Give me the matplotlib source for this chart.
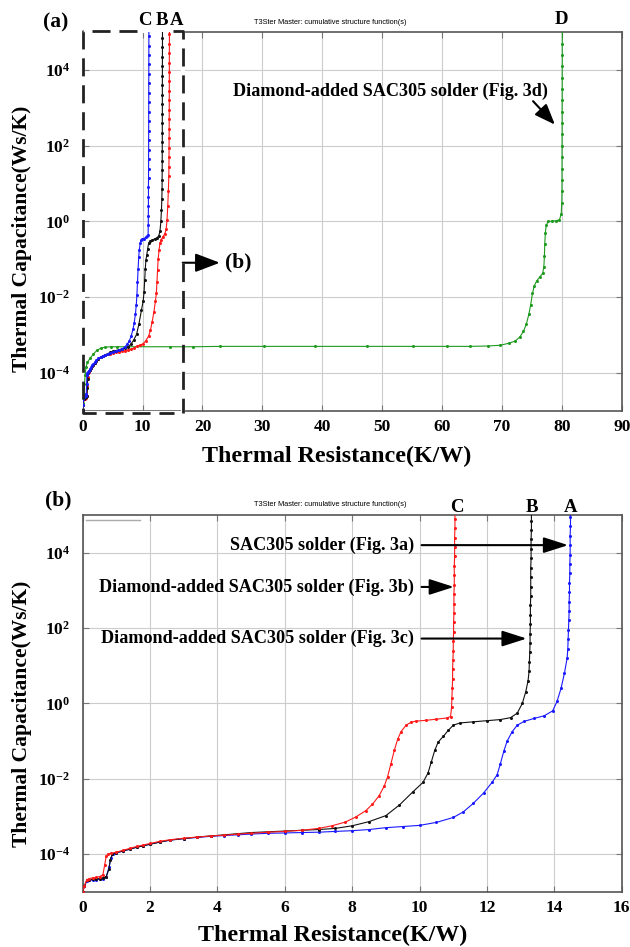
import numpy as np
import matplotlib
matplotlib.use('Agg')
import matplotlib.pyplot as plt
from matplotlib.ticker import FixedLocator, FixedFormatter, NullLocator

plt.rcParams['font.family'] = ['Liberation Serif', 'DejaVu Serif']
plt.rcParams['font.weight'] = 'bold'
plt.rcParams['mathtext.fontset'] = 'custom'
plt.rcParams['mathtext.rm'] = 'Liberation Serif:bold'
plt.rcParams['mathtext.it'] = 'Liberation Serif:bold:italic'
plt.rcParams['mathtext.bf'] = 'Liberation Serif:bold'
plt.rcParams['mathtext.default'] = 'rm'

# ---------------- data (thermal resistance K/W, log10 of thermal capacitance Ws/K) ----------------
# A: SAC305 solder (Fig. 3a)
A_x = [0.00, 0.05, 0.12, 0.20, 0.30, 0.40, 0.50, 0.60, 0.70, 0.78,
       0.84, 0.90, 1.00, 1.20, 1.40, 1.60, 1.80, 2.00, 2.30, 2.60,
       3.00, 3.40, 3.80, 4.20, 4.60, 5.00, 5.50, 6.00, 6.50, 7.00,
       7.50, 8.00, 8.50, 9.00, 9.50, 10.00, 10.50, 11.00, 11.30, 11.60,
       11.90, 12.15, 12.30, 12.40, 12.50, 12.60, 12.75, 12.90, 13.10, 13.40,
       13.70, 13.95, 14.08, 14.20, 14.30, 14.38,
       14.40, 14.41, 14.42, 14.43, 14.44, 14.44, 14.45, 14.45, 14.46, 14.46,
       14.47, 14.47, 14.47, 14.48, 14.48, 14.48]
A_logc = [-5.00, -4.85, -4.72, -4.70, -4.69, -4.68, -4.67, -4.65, -4.60, -4.35,
          -4.10, -4.00, -3.97, -3.92, -3.87, -3.82, -3.78, -3.74, -3.68, -3.63,
          -3.59, -3.56, -3.53, -3.51, -3.49, -3.47, -3.45, -3.44, -3.43, -3.42,
          -3.40, -3.38, -3.35, -3.30, -3.27, -3.24, -3.16, -3.03, -2.88, -2.65,
          -2.38, -2.10, -1.90, -1.60, -1.27, -1.00, -0.75, -0.58, -0.48, -0.40,
          -0.33, -0.20, 0.05, 0.40, 0.80, 1.20,
          1.45, 1.70, 1.95, 2.20, 2.45, 2.70, 2.95, 3.20, 3.45, 3.70,
          3.95, 4.20, 4.45, 4.70, 4.95, 5.10]

# B: Diamond-added SAC305 solder (Fig. 3c)
B_x = [0.00, 0.05, 0.12, 0.20, 0.30, 0.40, 0.50, 0.60, 0.70, 0.78,
       0.82, 0.88, 1.00, 1.20, 1.40, 1.60, 1.80, 2.00, 2.30, 2.60,
       3.00, 3.40, 3.80, 4.20, 4.60, 5.00, 5.50, 6.00, 6.50, 7.00,
       7.50, 8.00, 8.50, 9.00, 9.40, 9.80, 10.10, 10.25, 10.35, 10.45,
       10.55, 10.70, 10.85, 11.00, 11.20, 11.60, 12.00, 12.40, 12.70, 12.90,
       13.05, 13.15, 13.22,
       13.25, 13.26, 13.27, 13.28, 13.28, 13.29, 13.29, 13.29, 13.30, 13.30,
       13.30, 13.30, 13.31, 13.31, 13.31, 13.32, 13.32, 13.32]
B_logc = [-5.00, -4.85, -4.70, -4.68, -4.67, -4.66, -4.65, -4.63, -4.60, -4.40,
          -4.15, -4.00, -3.96, -3.92, -3.87, -3.82, -3.78, -3.74, -3.68, -3.63,
          -3.59, -3.55, -3.52, -3.49, -3.46, -3.43, -3.41, -3.39, -3.37, -3.35,
          -3.32, -3.25, -3.14, -2.98, -2.70, -2.35, -2.10, -1.85, -1.55, -1.25,
          -1.03, -0.88, -0.72, -0.58, -0.52, -0.49, -0.46, -0.43, -0.38, -0.26,
          0.00, 0.30, 0.60,
          0.85, 1.10, 1.35, 1.60, 1.85, 2.10, 2.35, 2.60, 2.85, 3.10,
          3.35, 3.60, 3.85, 4.10, 4.35, 4.60, 4.85, 5.10]

# C: Diamond-added SAC305 solder (Fig. 3b)
C_x = [0.00, 0.05, 0.12, 0.20, 0.30, 0.40, 0.50, 0.60, 0.65, 0.70,
       0.75, 0.85, 1.00, 1.20, 1.40, 1.60, 1.80, 2.00, 2.30, 2.60,
       3.00, 3.40, 3.80, 4.20, 4.60, 5.00, 5.50, 6.00, 6.50, 7.00,
       7.40, 7.80, 8.10, 8.40, 8.60, 8.80, 8.95, 9.05, 9.15, 9.25,
       9.35, 9.45, 9.60, 9.75, 9.90, 10.20, 10.50, 10.80, 10.92,
       10.95, 10.96, 10.97, 10.98, 10.98, 10.99, 11.00, 11.00, 11.01, 11.01,
       11.02, 11.02, 11.02, 11.03, 11.03, 11.03, 11.04, 11.04, 11.04, 11.05,
       11.05, 11.05]
C_logc = [-5.00, -4.85, -4.68, -4.65, -4.63, -4.62, -4.60, -4.55, -4.30, -4.05,
          -4.00, -3.98, -3.95, -3.90, -3.85, -3.80, -3.76, -3.72, -3.66, -3.62,
          -3.58, -3.55, -3.52, -3.50, -3.47, -3.45, -3.42, -3.40, -3.37, -3.32,
          -3.25, -3.15, -3.02, -2.85, -2.68, -2.45, -2.20, -1.95, -1.60, -1.25,
          -0.95, -0.75, -0.58, -0.50, -0.47, -0.45, -0.42, -0.39, -0.35,
          -0.10, 0.15, 0.40, 0.65, 0.90, 1.15, 1.40, 1.65, 1.90, 2.15,
          2.40, 2.65, 2.90, 3.15, 3.40, 3.65, 3.90, 4.15, 4.40, 4.65,
          4.90, 5.10]

# D: Diamond-added SAC305 solder (Fig. 3d)
D_x = [0.00, 0.10, 0.20, 0.30, 0.40, 0.55, 0.80, 1.20, 1.80, 2.40,
       3.00, 3.80, 4.80, 5.80, 14.60, 18.50, 22.90, 30.20, 38.80, 47.40,
       55.20, 60.80, 64.70, 67.70, 69.70, 71.10, 72.20, 73.00, 73.60, 74.10,
       74.50, 74.80, 75.10, 75.40, 75.80, 76.30, 76.80, 77.00, 77.10, 77.15,
       77.25, 77.40, 77.70, 78.30, 79.00, 79.60, 79.90, 80.00,
       80.02, 80.03, 80.03, 80.04, 80.04, 80.05, 80.05, 80.05, 80.06, 80.06,
       80.06, 80.07, 80.07, 80.07, 80.08]
D_logc = [-5.00, -4.80, -4.55, -4.30, -4.05, -3.85, -3.72, -3.62, -3.50, -3.40,
          -3.35, -3.32, -3.31, -3.31, -3.31, -3.31, -3.30, -3.30, -3.30, -3.30,
          -3.30, -3.30, -3.30, -3.29, -3.27, -3.22, -3.16, -3.05, -2.90, -2.70,
          -2.45, -2.20, -1.90, -1.70, -1.57, -1.47, -1.37, -1.20, -0.90, -0.60,
          -0.30, -0.10, 0.00, 0.01, 0.02, 0.04, 0.20, 0.50,
          0.80, 1.10, 1.40, 1.70, 2.00, 2.30, 2.60, 2.90, 3.20, 3.50,
          3.80, 4.10, 4.40, 4.70, 5.05]

ytick_vals = [1e-4, 1e-2, 1e0, 1e2, 1e4]
ytick_labels = [r'$10^{-4}$', r'$10^{-2}$', r'$10^{0}$', r'$10^{2}$', r'$10^{4}$']
xticks_a = [0, 10, 20, 30, 40, 50, 60, 70, 80, 90]
xticks_b = [0, 2, 4, 6, 8, 10, 12, 14, 16]

label_x = 'Thermal Resistance(K/W)'
label_y = 'Thermal Capacitance(Ws/K)'
title_small = 'T3Ster Master: cumulative structure function(s)'

# ---------------- figure ----------------
W, H = 630, 947
fig = plt.figure(figsize=(W / 100, H / 100), dpi=100)
axA = fig.add_axes([82.7 / W, 1 - 410.7 / H, 539 / W, 378.4 / H])
axB = fig.add_axes([82.7 / W, 1 - 891.7 / H, 539 / W, 376.7 / H])


def ftext(px, py, s, **kw):
    return fig.text(px / W, 1 - py / H, s, **kw)


def style(ax, xticks):
    ax.set_yscale('log')
    ax.set_ylim(1e-5, 1e5)
    ax.set_xlim(xticks[0], xticks[-1])
    ax.xaxis.set_major_locator(FixedLocator(xticks))
    ax.xaxis.set_minor_locator(NullLocator())
    ax.yaxis.set_major_locator(FixedLocator(ytick_vals))
    ax.yaxis.set_major_formatter(FixedFormatter(ytick_labels))
    ax.yaxis.set_minor_locator(NullLocator())
    ax.grid(True, color='#cccccc', lw=0.8)
    ax.set_axisbelow(True)
    ax.tick_params(direction='in', top=True, right=True, length=4, width=0.8,
                   color='#777777', labelsize=12.5)
    ax.tick_params(axis='x', pad=6)
    ax.tick_params(axis='y', pad=9)
    for sp in ax.spines.values():
        sp.set_color('#555555')
        sp.set_linewidth(1.2)


style(axA, xticks_a)
style(axB, xticks_b)

cap = lambda e: 10.0 ** np.asarray(e)
kw = dict(lw=0.8, marker='o', ms=2.2, mew=0, zorder=3)

# panel (a)
axA.plot(D_x, cap(D_logc), color='#1f9a1f', **kw)
axA.plot(A_x, cap(A_logc), color='#ff1a1a', **kw)
axA.plot(B_x, cap(B_logc), color='#111111', **kw)
axA.plot(C_x, cap(C_logc), color='#1a1aff', **kw)

# panel (b)
axB.plot(A_x, cap(A_logc), color='#1a1aff', **kw)
axB.plot(B_x, cap(B_logc), color='#111111', **kw)
axB.plot(C_x, cap(C_logc), color='#ff1a1a', **kw)

# ---------------- panel (a) annotations ----------------
ytop, ybot = 10 ** 5.04, 10 ** -5.05
xr = 16.7
axA.plot([0, xr, xr, 0, 0], [ytop, ytop, ybot, ybot, ytop], color='white', lw=3,
         solid_capstyle='butt', clip_on=False, zorder=2.6)
dash = (0, (6.5, 3.2))
axA.plot([9.0, 0, 0, 15.2], [ytop, ytop, ybot, ybot], color='#222222', lw=2.0,
         ls=dash, clip_on=False, zorder=5)
axA.plot([15.0, xr, xr], [ytop, ytop, ybot], color='#222222', lw=2.0,
         ls=dash, clip_on=False, zorder=5)

for lab, xx in zip(['C', 'B', 'A'], [10.4, 13.2, 15.7]):
    axA.text(xx, 10 ** 5.31, lab, ha='center', va='center', fontsize=13.5, clip_on=False)
axA.text(80, 10 ** 5.33, 'D', ha='center', va='center', fontsize=13.5, clip_on=False)

axA.text(25.1, 10 ** 3.45, 'Diamond-added SAC305 solder (Fig. 3d)', ha='left',
         va='center', fontsize=13.1)
axA.annotate('', xy=(78.85, 10 ** 2.56), xytext=(75.2, 10 ** 3.18),
             arrowprops=dict(arrowstyle='-|>,head_length=0.9,head_width=0.35',
                             mutation_scale=14, lw=1.5, color='black',
                             shrinkA=0, shrinkB=0))
axA.annotate('', xy=(22.9, 10 ** -1.09), xytext=(xr, 10 ** -1.09),
             arrowprops=dict(arrowstyle='-|>,head_length=1.0,head_width=0.38',
                             mutation_scale=15, lw=1.5, color='black',
                             shrinkA=0, shrinkB=0), annotation_clip=False)
axA.text(23.75, 10 ** -1.09, '(b)', ha='left', va='center', fontsize=15.5)

# ---------------- panel (b) annotations ----------------
for lab, xx in zip(['C', 'B', 'A'], [11.1, 13.34, 14.48]):
    axB.text(xx, 10 ** 5.21, lab, ha='center', va='center', fontsize=13.5, clip_on=False)

axB.plot([0.1, 1.7], [10 ** 4.88, 10 ** 4.88], color='#aaaaaa', lw=1.0)

notes_b = ['SAC305 solder (Fig. 3a)', 'Diamond-added SAC305 solder (Fig. 3b)',
           'Diamond-added SAC305 solder (Fig. 3c)']
note_y = [4.20, 3.09, 1.72]
arrow_end = [14.41, 11.02, 13.18]
for s, ly, xe in zip(notes_b, note_y, arrow_end):
    axB.text(9.83, 10 ** ly, s, ha='right', va='center', fontsize=13.1)
    axB.annotate('', xy=(xe, 10 ** ly), xytext=(10.06, 10 ** ly),
                 arrowprops=dict(arrowstyle='-|>,head_length=1.0,head_width=0.32',
                                 mutation_scale=15, lw=1.5, color='black',
                                 shrinkA=0, shrinkB=0))

# ---------------- labels ----------------
ftext(43, 22, '(a)', ha='left', va='center', fontsize=15.5)
ftext(45, 500, '(b)', ha='left', va='center', fontsize=15.5)
ftext(330, 23, title_small, ha='center', va='center', fontsize=5.3,
      family='Liberation Sans', weight='normal')
ftext(330, 505, title_small, ha='center', va='center', fontsize=5.3,
      family='Liberation Sans', weight='normal')
ftext(337, 456.7, label_x, ha='center', va='center', fontsize=17.3)
ftext(333, 935, label_x, ha='center', va='center', fontsize=17.3)
ftext(22, 239, label_y, ha='center', va='center', fontsize=15.5, rotation=90)
ftext(22, 713.5, label_y, ha='center', va='center', fontsize=15.5, rotation=90)

fig.savefig('out.png', dpi=100)
